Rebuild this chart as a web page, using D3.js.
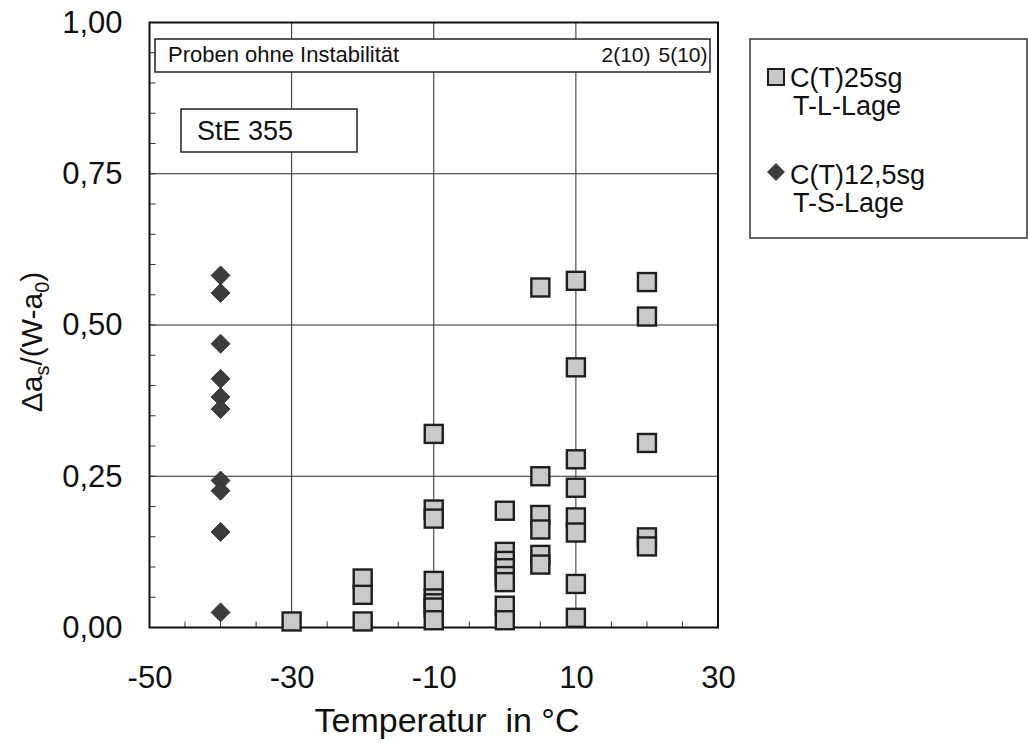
<!DOCTYPE html>
<html><head><meta charset="utf-8">
<script src="https://cdn.jsdelivr.net/npm/d3@7"></script>
<style>body{margin:0;background:#fff} svg{display:block}</style>
</head><body><svg id="c" width="1028" height="743"></svg>
<script>
// ---- data ----
const xTicks = [-50, -30, -10, 10, 30];
const xTickLabels = ["-50", "-30", "-10", "10", "30"];
const yTicks = [0, 0.25, 0.5, 0.75, 1];
const yTickLabels = ["0,00", "0,25", "0,50", "0,75", "1,00"];

// C(T)25sg T-L-Lage (squares)
const sqTemp = [-30,
  -20, -20, -20,
  -10, -10, -10, -10, -10, -10, -10, -10,
  0, 0, 0, 0, 0, 0, 0, 0,
  5, 5, 5, 5, 5, 5,
  10, 10, 10, 10, 10, 10, 10, 10,
  20, 20, 20, 20, 20];
const sqVal = [0.01,
  0.081, 0.054, 0.01,
  0.32, 0.195, 0.18, 0.077, 0.048, 0.04, 0.033, 0.012,
  0.193, 0.125, 0.11, 0.098, 0.085, 0.075, 0.036, 0.012,
  0.562, 0.25, 0.186, 0.162, 0.12, 0.104,
  0.573, 0.43, 0.278, 0.231, 0.182, 0.157, 0.072, 0.016,
  0.571, 0.514, 0.305, 0.149, 0.134];

// C(T)12,5sg T-S-Lage (diamonds)
const diTemp = [-40, -40, -40, -40, -40, -40, -40, -40, -40, -40];
const diVal = [0.582, 0.553, 0.469, 0.411, 0.381, 0.361, 0.243, 0.226, 0.158, 0.025];

const legendLabels = [["C(T)25sg", "T-L-Lage"], ["C(T)12,5sg", "T-S-Lage"]];
const noteLabel = "Proben ohne Instabilität";
const noteCounts = ["2(10)", "5(10)"];
const materialLabel = "StE 355";
const xTitle = "Temperatur  in °C";

// ---- layout ----
const L = 149.5, R = 718, T = 22.5, B = 627.5;
const FONT = "'Liberation Sans', Arial, Helvetica, sans-serif";
const svg = d3.select("#c").style("font-family", FONT);

const x = d3.scaleLinear().domain([-50, 30]).range([L, R]);
const y = d3.scaleLinear().domain([0, 1]).range([B, T]);

// grid lines
svg.append("g").selectAll("line").data(xTicks.slice(1, -1)).join("line")
  .attr("x1", d => x(d)).attr("x2", d => x(d)).attr("y1", T).attr("y2", B)
  .attr("stroke", "#2a2a2a").attr("stroke-width", 1);
svg.append("g").selectAll("line").data(yTicks.slice(1, -1)).join("line")
  .attr("y1", d => y(d)).attr("y2", d => y(d)).attr("x1", L).attr("x2", R)
  .attr("stroke", "#2a2a2a").attr("stroke-width", 1);

// minor ticks
const xMinor = d3.range(-45, 30, 5);
svg.append("g").selectAll("line").data(xMinor).join("line")
  .attr("x1", d => x(d)).attr("x2", d => x(d)).attr("y1", B).attr("y2", B - 6)
  .attr("stroke", "#333").attr("stroke-width", 1);
const yMinor = d3.range(0.05, 1, 0.05);
svg.append("g").selectAll("line").data(yMinor).join("line")
  .attr("y1", d => y(d)).attr("y2", d => y(d)).attr("x1", L).attr("x2", L + 6)
  .attr("stroke", "#333").attr("stroke-width", 1);

// axes labels via d3 axes
const xAxis = svg.append("g").attr("transform", `translate(0,${B})`)
  .call(d3.axisBottom(x).tickValues(xTicks).tickFormat((d, i) => xTickLabels[i]).tickSize(0).tickPadding(38));
xAxis.select(".domain").remove();
xAxis.selectAll("text").attr("font-size", 31).attr("font-family", FONT).attr("fill", "#111");

const yAxis = svg.append("g").attr("transform", `translate(${L},0)`)
  .call(d3.axisLeft(y).tickValues(yTicks).tickFormat((d, i) => yTickLabels[i]).tickSize(0).tickPadding(27));
yAxis.select(".domain").remove();
yAxis.selectAll("text").attr("font-size", 31).attr("font-family", FONT).attr("fill", "#111");

// frame
svg.append("rect").attr("x", L).attr("y", T).attr("width", R - L).attr("height", B - T)
  .attr("fill", "none").attr("stroke", "#111").attr("stroke-width", 2);

// axis titles
svg.append("text").attr("x", 447).attr("y", 732).attr("text-anchor", "middle")
  .attr("font-size", 34).attr("fill", "#111").style("white-space", "pre").text(xTitle);

const yt = svg.append("text").attr("transform", `translate(42,${(T + B) / 2 + 17}) rotate(-90)`)
  .attr("text-anchor", "middle").attr("font-size", 30).attr("fill", "#111");
yt.append("tspan").text("Δa");
yt.append("tspan").attr("font-size", 20).attr("dy", 7).text("s");
yt.append("tspan").attr("dy", -7).text("/(W-a");
yt.append("tspan").attr("font-size", 20).attr("dy", 7).text("0");
yt.append("tspan").attr("dy", -7).text(")");

// note box
svg.append("rect").attr("x", 155).attr("y", 39).attr("width", 555).attr("height", 33)
  .attr("fill", "#fff").attr("stroke", "#222").attr("stroke-width", 1.5);
svg.append("text").attr("x", 168).attr("y", 62).attr("font-size", 22).attr("fill", "#111").text(noteLabel);
svg.append("g").selectAll("text").data(noteCounts).join("text")
  .attr("x", (d, i) => [626, 683][i]).attr("y", 62).attr("text-anchor", "middle")
  .attr("font-size", 21).attr("fill", "#111").text(d => d);

// material box
svg.append("rect").attr("x", 181).attr("y", 109).attr("width", 176).attr("height", 43)
  .attr("fill", "#fff").attr("stroke", "#222").attr("stroke-width", 1.5);
svg.append("text").attr("x", 197).attr("y", 140).attr("font-size", 27).attr("fill", "#111").text(materialLabel);

// data: squares
const S = 18;
const sq = sqTemp.map((t, i) => ({t, v: sqVal[i]}));
svg.append("g").selectAll("rect").data(sq).join("rect")
  .attr("x", d => x(d.t) - S / 2).attr("y", d => y(d.v) - S / 2)
  .attr("width", S).attr("height", S)
  .attr("fill", "#c9c9c9").attr("stroke", "#1e1e1e").attr("stroke-width", 2.4);

// data: diamonds
const D = 9.5;
const di = diTemp.map((t, i) => ({t, v: diVal[i]}));
svg.append("g").selectAll("path").data(di).join("path")
  .attr("d", d => `M${x(d.t)},${y(d.v) - D}L${x(d.t) + D},${y(d.v)}L${x(d.t)},${y(d.v) + D}L${x(d.t) - D},${y(d.v)}Z`)
  .attr("fill", "#3c3c3c").attr("stroke", "#2a2a2a").attr("stroke-width", 0.8);

// legend
svg.append("rect").attr("x", 750).attr("y", 39).attr("width", 277).attr("height", 199)
  .attr("fill", "#fff").attr("stroke", "#333").attr("stroke-width", 1.5);
const lg = svg.append("g");
lg.append("rect").attr("x", 768).attr("y", 69).attr("width", 16).attr("height", 16)
  .attr("fill", "#c9c9c9").attr("stroke", "#1e1e1e").attr("stroke-width", 2);
lg.append("path").attr("d", "M776,163L785,172L776,181L767,172Z").attr("fill", "#3c3c3c");
legendLabels.forEach((lines, i) => {
  const by = [87, 184][i];
  lines.forEach((s, j) => {
    lg.append("text").attr("x", j === 0 ? 790 : 793).attr("y", by + j * 28)
      .attr("font-size", 27).attr("fill", "#111").text(s);
  });
});
</script>
</body></html>
